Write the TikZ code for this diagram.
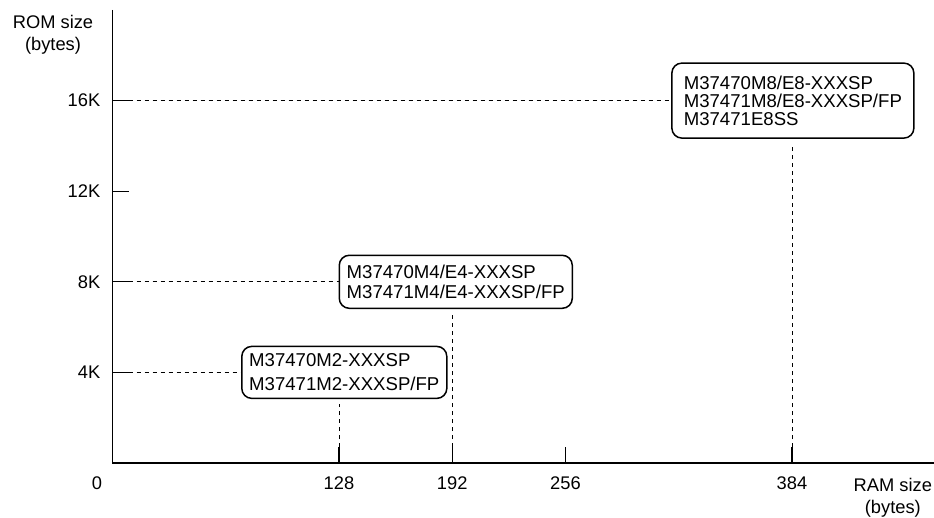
\documentclass[tikz,border=0pt]{standalone}
\usepackage{fontspec}
\setmainfont{Liberation Sans}

\tikzset{
  axis/.style={line width=1.7pt},
  tick/.style={line width=1.2pt},
  guide/.style={dash pattern=on 4pt off 4pt, line width=0.7pt},
  lbl/.style={inner sep=0pt, align=center, font=\fontsize{18.3}{22}\selectfont},
  chip/.style={draw, line width=1.5pt, rounded corners=10pt, align=left, inner sep=0pt, font=\fontsize{18.6}{18}\selectfont}
}

\begin{document}
\begin{tikzpicture}[x=1pt, y=1pt]
            \useasboundingbox (0, 0) rectangle (934, 517);
            \begin{scope}[shift={(112.5pt, 54pt)}, x=1.7695pt, y=22.65pt]
            % axes
            \draw[axis] (0, 20) -- (0, 0) -- (464, 0);
            \draw[tick] (0, 4) -- ++(16pt, 0) coordinate (ky4);
            \draw[tick] (0, 8) -- ++(16pt, 0) coordinate (ky8);
            \draw[tick] (0, 12) -- ++(16pt, 0) coordinate (ky12);
            \draw[tick] (0, 16) -- ++(16pt, 0) coordinate (ky16);
            \draw[tick] (128, 0) -- ++(0, 16pt) coordinate (tx128);
            \draw[tick] (192, 0) -- ++(0, 16pt) coordinate (tx192);
            \draw[tick] (256, 0) -- ++(0, 16pt) coordinate (tx256);
            \draw[tick] (384, 0) -- ++(0, 16pt) coordinate (tx384);
            % axis labels
            \node[lbl, anchor=north] (romlbl) at ([xshift=-59.5pt, yshift=-5pt]0, 20) {ROM size\\(bytes)};
            \node[lbl, anchor=north] (ramlbl) at ([yshift=-15.5pt]441, 0) {RAM size\\(bytes)};
            \node[lbl, left=12pt] (l4) at (0, 4) {4K};
            \node[lbl, left=12pt] (l8) at (0, 8) {8K};
            \node[lbl, left=12pt] (l12) at (0, 12) {12K};
            \node[lbl, left=12pt] (l16) at (0, 16) {16K};
            \node[lbl, below=14pt] (l0) at ([xshift=-15.5pt]0, 0) {0};
            \node[lbl, below=14pt] (l128) at (128, 0) {128};
            \node[lbl, below=14pt] (l192) at (192, 0) {192};
            \node[lbl, below=14pt] (l256) at (256, 0) {256};
            \node[lbl, below=14pt] (l384) at (384, 0) {384};
            % chip groups
            \node[chip, minimum width=205pt, minimum height=52pt] (m128) at (131, 4) {M37470M2-XXXSP\\[6pt]M37471M2-XXXSP/FP};
            \node[chip, minimum width=233pt, minimum height=53pt] (m192) at (194, 8) {M37470M4/E4-XXXSP\\[2pt]M37471M4/E4-XXXSP/FP};
            \node[chip, minimum width=242pt, minimum height=75pt] (m384) at (384.5, 16) {M37470M8/E8-XXXSP\\M37471M8/E8-XXXSP/FP\\M37471E8SS};
            % guide lines
            \draw[guide] (ky4) -- (ky4 -| m128.west);
            \draw[guide] (ky8) -- (ky8 -| m192.west);
            \draw[guide] (ky16) -- (ky16 -| m384.west);
            \draw[guide, shorten >=5pt] (tx128) -- (tx128 |- m128.south);
            \draw[guide, shorten >=5pt] (tx192) -- (tx192 |- m192.south);
            \draw[guide, shorten >=5pt] (tx384) -- (tx384 |- m384.south);
            \end{scope}
        \end{tikzpicture}
\end{document}
